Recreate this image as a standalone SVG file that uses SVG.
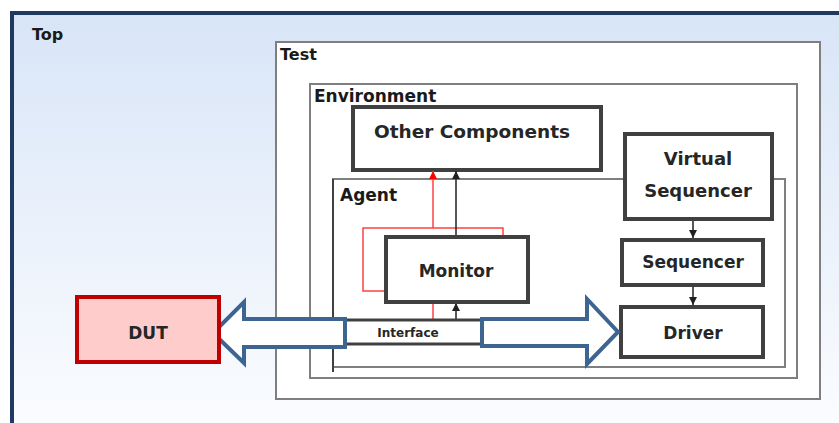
<svg xmlns="http://www.w3.org/2000/svg" width="839" height="423" viewBox="0 0 839 423">
  <defs>
    <linearGradient id="topFill" x1="0" y1="0" x2="0" y2="1">
      <stop offset="0" stop-color="#d8e5f7"/>
      <stop offset="1" stop-color="#fcfdff"/>
    </linearGradient>
    <marker id="headBlack" viewBox="0 0 8 8" refX="8" refY="4" markerWidth="8" markerHeight="8" markerUnits="userSpaceOnUse" orient="auto">
      <path d="M0,0 L8,4 L0,8 Z" fill="#202020"/>
    </marker>
    <marker id="headRed" viewBox="0 0 8 8" refX="8" refY="4" markerWidth="8" markerHeight="8" markerUnits="userSpaceOnUse" orient="auto">
      <path d="M0,0 L8,4 L0,8 Z" fill="#ff0000"/>
    </marker>
  </defs>
  <style>
    .container { fill: #ffffff; stroke: #7f7f7f; stroke-width: 2; }
    .box { fill: #ffffff; stroke: #404040; stroke-width: 4; }
    .title { font-family: "DejaVu Sans", Verdana, sans-serif; font-weight: bold; fill: #1a1a1a; }
    .label { font-family: "DejaVu Sans", Verdana, sans-serif; font-weight: bold; fill: #262626; text-anchor: middle; }
    .wire { stroke: #202020; stroke-width: 1.5; fill: none; }
    .redwire { stroke: #ff4040; stroke-width: 1.5; fill: none; }
    .bigarrow { fill: #ffffff; stroke: #3c6591; stroke-width: 4; stroke-linejoin: miter; }
  </style>

  <!-- outer testbench frame -->
  <g id="top">
    <rect x="0" y="0" width="839" height="423" fill="#ffffff"/>
    <rect x="12" y="13" width="850" height="430" fill="url(#topFill)" stroke="#1f3a60" stroke-width="4"/>
    <text class="title" x="32" y="40" font-size="16">Top</text>
  </g>

  <g id="test">
    <rect class="container" x="276" y="42" width="544" height="357"/>
    <text class="title" x="280" y="60" font-size="16">Test</text>
  </g>

  <g id="environment">
    <rect class="container" x="310" y="84" width="487" height="294"/>
    <text class="title" x="314" y="102" font-size="17">Environment</text>
  </g>

  <g id="agent">
    <rect class="container" x="333" y="179" width="452" height="188"/>
    <line x1="333" y1="179" x2="333" y2="372" stroke="#404040" stroke-width="2"/>
    <text class="title" x="340" y="201" font-size="17">Agent</text>
  </g>

  <g id="other-components">
    <rect class="box" x="353" y="107" width="248" height="63"/>
    <text class="label" x="472" y="138" font-size="18.5">Other Components</text>
  </g>

  <g id="virtual-sequencer">
    <rect class="box" x="625" y="134" width="147" height="85"/>
    <text class="label" x="698" y="165" font-size="18">Virtual</text>
    <text class="label" x="698" y="197" font-size="18">Sequencer</text>
  </g>

  <g id="sequencer">
    <rect class="box" x="622" y="240" width="141" height="45"/>
    <text class="label" x="693" y="268" font-size="17">Sequencer</text>
  </g>

  <g id="driver">
    <rect class="box" x="621" y="307" width="142" height="50"/>
    <text class="label" x="693" y="339" font-size="17">Driver</text>
  </g>

  <!-- analysis loop behind the monitor -->
  <g id="connectors">
    <rect class="redwire" x="363" y="228" width="140" height="63"/>
    <line class="redwire" x1="433" y1="228" x2="433" y2="171" marker-end="url(#headRed)"/>
    <line class="redwire" x1="433" y1="319" x2="433" y2="300"/>
    <line class="wire" x1="456" y1="237" x2="456" y2="171" marker-end="url(#headBlack)"/>
    <line class="wire" x1="456" y1="319" x2="456" y2="303" marker-end="url(#headBlack)"/>
    <line class="wire" x1="693" y1="221" x2="693" y2="238" marker-end="url(#headBlack)"/>
    <line class="wire" x1="693" y1="287" x2="693" y2="305" marker-end="url(#headBlack)"/>
  </g>

  <g id="monitor">
    <rect class="box" x="386" y="237" width="142" height="65"/>
    <text class="label" x="456" y="277" font-size="17">Monitor</text>
  </g>

  <g id="interface">
    <rect x="337" y="320" width="153" height="24" fill="#ffffff" stroke="#404040" stroke-width="3"/>
    <text class="label" x="408" y="337" font-size="12" fill="#404040">Interface</text>
  </g>

  <g id="arrow-to-dut">
    <polygon class="bigarrow" points="345,319 244,319 244,302 213,333 244,363 244,347 345,347"/>
  </g>
  <g id="arrow-to-driver">
    <polygon class="bigarrow" points="482,319 587,319 587,299 618,332 587,364 587,346 482,346"/>
  </g>

  <g id="dut">
    <rect x="77" y="297" width="142" height="65" fill="#ffcccc" stroke="#c00000" stroke-width="4"/>
    <text class="label" x="148" y="339" font-size="17">DUT</text>
  </g>
</svg>
